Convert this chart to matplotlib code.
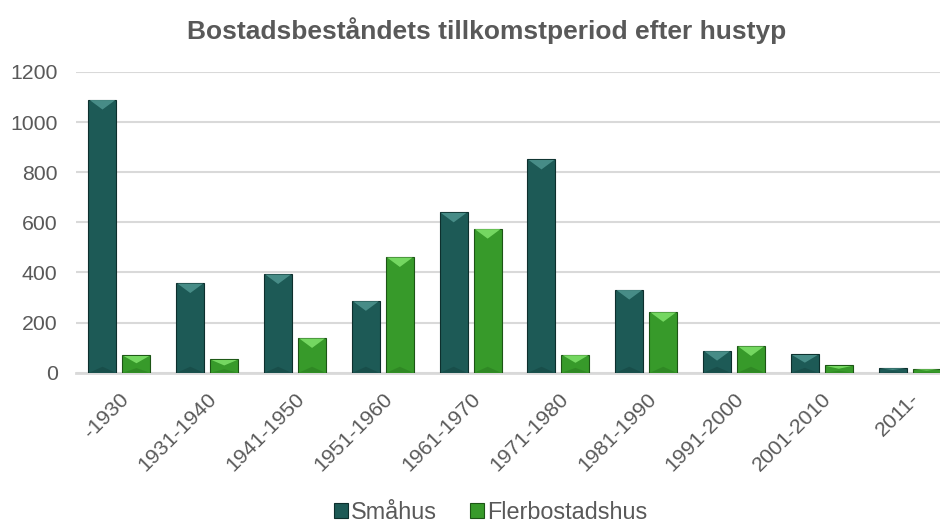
import matplotlib
matplotlib.use("Agg")
import matplotlib.pyplot as plt
import numpy as np
from matplotlib.patches import Polygon

plt.rcParams['font.family'] = ['Liberation Sans', 'DejaVu Sans']

categories = ["-1930", "1931-1940", "1941-1950", "1951-1960", "1961-1970",
              "1971-1980", "1981-1990", "1991-2000", "2001-2010", "2011-"]
smahus = [1090, 358, 394, 287, 640, 851, 332, 88, 73, 20]
flerbostadshus = [69, 53, 139, 462, 575, 72, 243, 107, 29, 16]
series_names = ["Småhus", "Flerbostadshus"]
yticks = [0, 200, 400, 600, 800, 1000, 1200]

TXT = "#595959"
styles = [
    dict(face="#1d5a56", top="#4f9690", bot="#123c39", edge="#0d2f2d"),
    dict(face="#379a2a", top="#80e36b", bot="#256f1c", edge="#1c5515"),
]

fig = plt.figure(figsize=(9.4, 5.25), dpi=100)
ax = fig.add_axes([0.0804, 0.29, 0.934, 0.573])

x = np.arange(len(categories))
bw = 0.319
off = 0.1935
bars_all = []
for i, (vals, st) in enumerate(zip([smahus, flerbostadshus], styles)):
    pos = x + (-off if i == 0 else off)
    bars = ax.bar(pos, vals, width=bw, color=st["face"], edgecolor=st["edge"],
                  linewidth=0.8, zorder=3, label=series_names[i])
    bars_all.append(bars)
    for b in bars:
        x0 = b.get_x(); w = b.get_width(); h = b.get_height()
        d = min(40, h * 0.45)
        inset = w * 0.04
        ax.add_patch(Polygon([[x0 + inset, h - 2], [x0 + w - inset, h - 2],
                              [x0 + w / 2, h - d]], closed=True,
                             facecolor=st["top"], edgecolor='none', zorder=4, alpha=0.85))
        ax.add_patch(Polygon([[x0 + inset, 1], [x0 + w - inset, 1],
                              [x0 + w / 2, min(d * 0.6, h * 0.3)]], closed=True,
                             facecolor=st["bot"], edgecolor='none', zorder=4, alpha=0.4))

ax.set_ylim(0, 1200)
ax.set_xlim(-0.5, len(categories) - 0.5)
ax.set_yticks(yticks)
ax.set_yticklabels([str(v) for v in yticks])
ax.set_xticks(x)
ax.set_xticklabels(categories, rotation=45, ha='right', va='top', rotation_mode='anchor')
ax.tick_params(axis='both', length=0, labelsize=15.3, colors=TXT)
ax.tick_params(axis='y', pad=13)
ax.tick_params(axis='x', pad=12)
ax.grid(axis='y', color='#d9d9d9', linewidth=1.5, zorder=0)
ax.set_axisbelow(True)
for s in ['top', 'right', 'left']:
    ax.spines[s].set_visible(False)
ax.spines['bottom'].set_color('#d9d9d9')
ax.spines['bottom'].set_linewidth(2)
ax.spines['bottom'].set_zorder(2)

fig.text(0.518, 0.942, "Bostadsbeståndets tillkomstperiod efter hustyp",
         ha='center', va='center', fontsize=19, fontweight='bold', color=TXT)

leg = fig.legend(handles=bars_all, labels=series_names, loc='center',
                 bbox_to_anchor=(0.522, 0.024), ncol=2, frameon=False,
                 fontsize=16.8, handlelength=0.6, handleheight=0.6,
                 handletextpad=0.15, columnspacing=1.4, labelcolor=TXT)

fig.savefig("out.png", dpi=100)
